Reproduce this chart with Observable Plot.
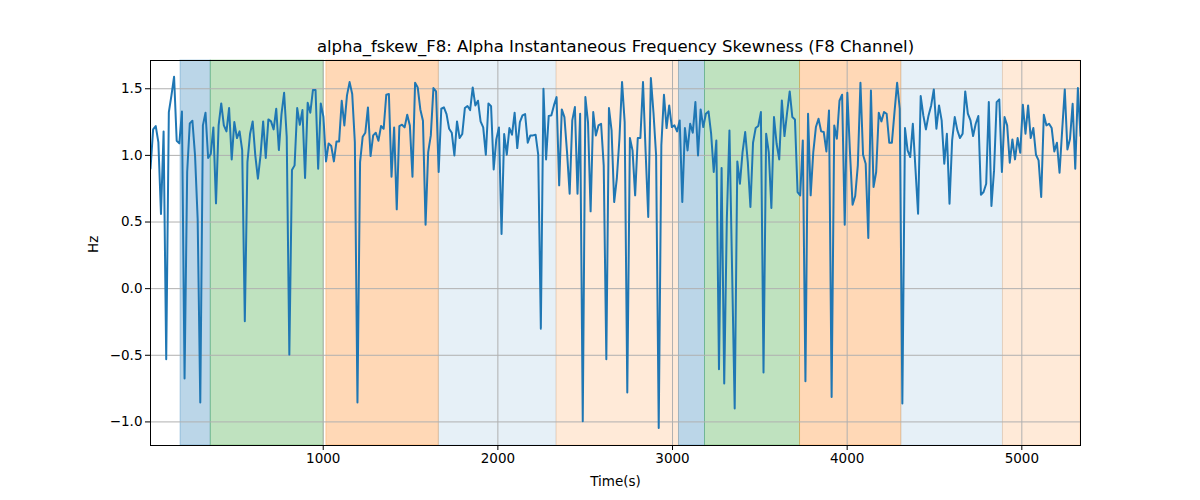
<!DOCTYPE html>
<html>
<head>
<meta charset="utf-8">
<script src="https://cdn.jsdelivr.net/npm/d3@7"></script>
<script src="https://cdn.jsdelivr.net/npm/@observablehq/plot@0.6"></script>
<style>
  html, body { margin: 0; padding: 0; background: #fff; }
  #chart { width: 1200px; height: 500px; }
</style>
</head>
<body>
<div id="chart"></div>
<script>
// Sampling: first sample at t0, one sample every `step` seconds
const t0 = 11;
const step = 15;

const values = [
  0.9, 1.195, 1.22, 1.1, 0.56, 1.18, -0.53, 1.325, 1.45, 1.59,
  1.11, 1.09, 1.33, -0.675, 0.875, 1.24, 1.26, 1.0, 0.525, -0.855,
  1.225, 1.32, 0.98, 1.01, 1.21, 0.64, 1.225, 1.39, 1.225, 1.18,
  1.355, 0.97, 1.25, 1.13, 1.18, 1.04, -0.245, 0.95, 1.16, 1.255,
  1.0, 0.825, 1.0, 1.255, 0.98, 1.27, 1.255, 1.195, 1.35, 1.04,
  1.31, 1.47, 1.14, -0.495, 0.89, 0.925, 1.355, 1.23, 1.34, 0.83,
  1.395, 1.32, 1.49, 1.49, 0.9, 1.39, 1.29, 0.955, 1.09, 1.07,
  0.955, 1.105, 1.105, 1.41, 1.225, 1.45, 1.55, 1.46, 1.1, -0.855,
  0.95, 1.14, 1.17, 1.36, 0.995, 1.15, 1.17, 1.11,
  1.22, 1.2, 1.455, 1.46, 0.84, 1.21, 0.595, 1.22, 1.23, 1.21, 1.305, 1.225,
  0.84, 1.545, 1.51, 1.345, 1.26, 0.48, 1.025, 1.15, 1.505, 1.48,
  0.875, 1.35, 1.36, 1.31, 1.2, 1.17, 1.0, 1.255, 1.13, 1.16,
  1.355, 1.37, 1.34, 1.51, 1.375, 1.41, 1.255, 1.21, 1.005, 1.39,
  1.37, 0.895, 1.12, 1.21, 0.41, 1.16, 1.005, 1.205, 1.155, 1.32,
  1.055, 1.25, 1.3, 1.31, 1.095, 1.15, 1.15, 1.155, 1.005, -0.3,
  1.5, 0.97, 1.295, 1.3, 1.375, 1.4375, 0.775, 1.345, 1.2875, 1.025,
  0.7125, 1.2625, 1.3625, 0.7125, 1.3125, -0.995, 1.4375, 1.25, 0.58, 1.325,
  1.15, 1.225, 1.2375, 0.925, -0.53, 1.355, 1.1875, 0.65, 0.825, 1.125,
  1.55, 1.25, -0.78, 1.13, 1.0375, 0.7, 1.13, 1.13, 1.55, 1.025,
  0.5375, 1.58, 1.32, 1.0, -1.045, 1.075, 1.455, 1.205, 1.375, 1.2125,
  1.225, 1.18, 1.2625, 0.65, 1.205, 1.0375, 1.2375, 1.17, 1.4, 1.0,
  1.345, 1.2125, 1.3125, 1.33, 1.1625, 0.875, 1.1125, -0.605, 0.905, -0.7125,
  0.525, 1.1875, 0.145, -0.9, 0.955, 0.7875, 1.025, 1.175, 0.95, 0.6125,
  1.095, 1.205, 1.22, 1.325, -0.63, 1.1625, 1.025, 0.605, 1.2875, 1.0875,
  0.97, 1.4125, 1.145, 1.32, 1.48, 1.2875, 1.27, 0.725, 0.7, 1.1125,
  -0.695, 1.3125, 0.7, 1.025, 1.2125, 1.275, 1.18, 1.175, 1.03, 1.3375,
  -0.8125, 1.225, 1.125, 1.41, 1.455, 0.48, 1.47, 1.025, 0.63, 0.695,
  0.925, 1.545, 1.005, 0.9375, 0.38, 1.4875, 0.7625, 0.875, 1.32, 1.255,
  1.325, 1.3125, 1.095, 1.095, 1.325, 1.545, 1.35, -0.8625, 1.205, 1.0375,
  0.9875, 1.2375, 0.9, 0.5625, 1.445, 1.3, 1.195, 1.3, 1.375, 1.495,
  1.2, 1.375, 1.2625, 0.9375, 1.1625, 0.6375, 1.1125, 1.2875, 1.1875, 1.13,
  1.1625, 1.48, 1.3125, 1.2625, 1.145, 1.2375, 1.295, 0.705, 0.725, 0.7875,
  1.4, 0.62, 0.8875, 1.4, 1.42, 0.875, 1.2875, 1.225, 0.945, 1.12,
  0.97, 1.13, 1.02, 1.38, 1.1625, 1.375, 1.13, 1.205, 1.005, 0.9625,
  0.6875, 1.305, 1.225, 1.2375, 1.205, 1.03, 1.095, 0.87, 1.1875, 1.495,
  1.045, 1.125, 1.3875, 0.9, 1.505, 1.145
];

// Shaded phases (seconds)
const bandStarts = [183, 356, 1018, 1662, 2336, 3037, 3186, 3730, 4310, 4892];
const bandEnds   = [356, 1003, 1662, 2336, 3037, 3186, 3730, 4310, 4892, 5336];
const bandKinds  = ["k1", "k2", "k3", "k4", "k5", "k1", "k2", "k3", "k4", "k5"];
const kindDomain = ["k1", "k2", "k3", "k4", "k5"];
const kindColors = ["#1f77b4", "#2ca02c", "#ff7f0e", "#1f77b4", "#ff7f0e"];
const kindAlpha  = {k1: 0.3, k2: 0.3, k3: 0.3, k4: 0.11, k5: 0.16};

const xTicks = [1000, 2000, 3000, 4000, 5000];
const yTicks = [-1.0, -0.5, 0.0, 0.5, 1.0, 1.5];
const xDomain = [11, 5336];
const yDomain = [-1.177, 1.712];

const titleText = "alpha_fskew_F8: Alpha Instantaneous Frequency Skewness (F8 Channel)";
const xLabel = "Time(s)";
const yLabel = "Hz";

const series = values.map((v, i) => ({t: t0 + step * i, v}));
const bands = bandStarts.map((s, i) => ({start: s, end: bandEnds[i], kind: bandKinds[i]}));

const font = "DejaVu Sans, sans-serif";
const fmtY = d => d.toFixed(1).replace("-", "\u2212");

const chart = Plot.plot({
  width: 1200,
  height: 500,
  marginLeft: 150,
  marginRight: 120,
  marginTop: 60,
  marginBottom: 55,
  style: {fontFamily: font, background: "#fff", color: "#000"},
  x: {domain: xDomain},
  y: {domain: yDomain},
  color: {type: "ordinal", domain: kindDomain, range: kindColors},
  marks: [
    Plot.rect(bands, {
      x1: "start", x2: "end", fill: "kind", stroke: "kind", strokeWidth: 1,
      fillOpacity: d => kindAlpha[d.kind], strokeOpacity: d => kindAlpha[d.kind]
    }),
    Plot.gridX(xTicks, {stroke: "#b0b0b0", strokeOpacity: 1, strokeWidth: 1}),
    Plot.gridY(yTicks, {stroke: "#b0b0b0", strokeOpacity: 1, strokeWidth: 1}),
    Plot.line(series, {x: "t", y: "v", stroke: "#1f77b4", strokeWidth: 2, clip: true}),
    Plot.frame({stroke: "#000", strokeWidth: 1}),
    Plot.axisX({ticks: xTicks, tickFormat: d => String(d), tickSize: 5, tickPadding: 3, fontSize: 13.5, label: null, stroke: "#000"}),
    Plot.axisY({ticks: yTicks, tickFormat: fmtY, tickSize: 5, tickPadding: 3, fontSize: 13.5, label: null, stroke: "#000"}),
    Plot.text([titleText], {text: d => d, frameAnchor: "top", lineAnchor: "middle", dy: -14, fontSize: 16.5, fill: "#000"}),
    Plot.text([xLabel], {text: d => d, frameAnchor: "bottom", lineAnchor: "middle", dy: 36, fontSize: 13.5, fill: "#000"}),
    Plot.text([yLabel], {text: d => d, frameAnchor: "left", lineAnchor: "middle", dx: -57, rotate: -90, fontSize: 13.5, fill: "#000"})
  ]
});
document.getElementById("chart").appendChild(chart);
</script>
</body>
</html>
